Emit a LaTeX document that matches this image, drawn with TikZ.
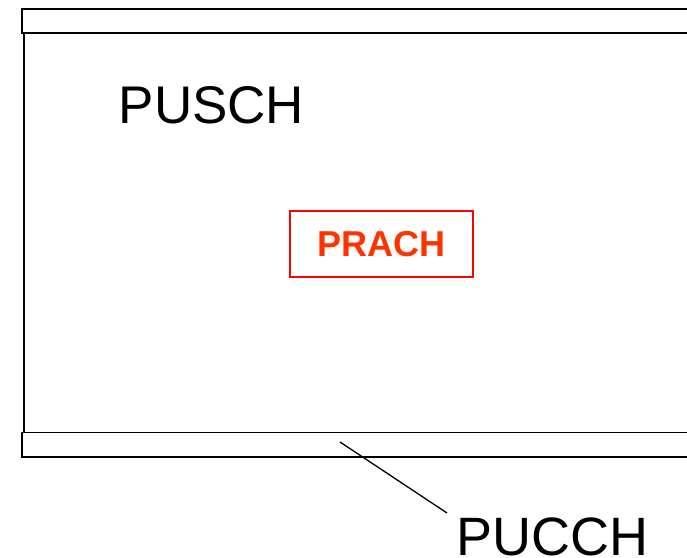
\documentclass[tikz,border=0pt]{standalone}
\usepackage{fontspec}
\setmainfont{Liberation Sans}
\begin{document}
\begin{tikzpicture}[x=1pt,y=1pt,
  band/.style={draw=black,line width=1.8pt,fill=white},
  bigtext/.style={inner sep=0pt,font=\fontsize{53}{60}\selectfont,anchor=base west},
  prachbox/.style={draw=red,line width=1.8pt,inner sep=0pt,minimum width=183pt,minimum height=66pt,text={rgb,255:red,255;green,51;blue,0},font=\fontsize{36}{40}\selectfont\bfseries},
  leader/.style={draw=black,line width=1.3pt}]
\useasboundingbox (0,0) rectangle (687,557);
\clip (0,0) rectangle (687,557);
% side line
\draw[line width=1.8pt] (24,524) -- (24,124);
% bands
\draw[band] (22.3,523.7) rectangle (720,548);
\draw[band] (22.3,99.7) rectangle (720,124.5);
% texts
\node[bigtext] (pusch) at (118.5,433) {PUSCH};
\node[prachbox] (prach) at (381.7,313.3) {PRACH};
\node[bigtext,font=\fontsize{54}{60}\selectfont] (pucch) at (456.5,2) {PUCCH};
% leader
\coordinate (ls) at (340,115);
\coordinate (le) at (447,44);
\draw[leader] (ls) -- (le);
\end{tikzpicture}
\end{document}
